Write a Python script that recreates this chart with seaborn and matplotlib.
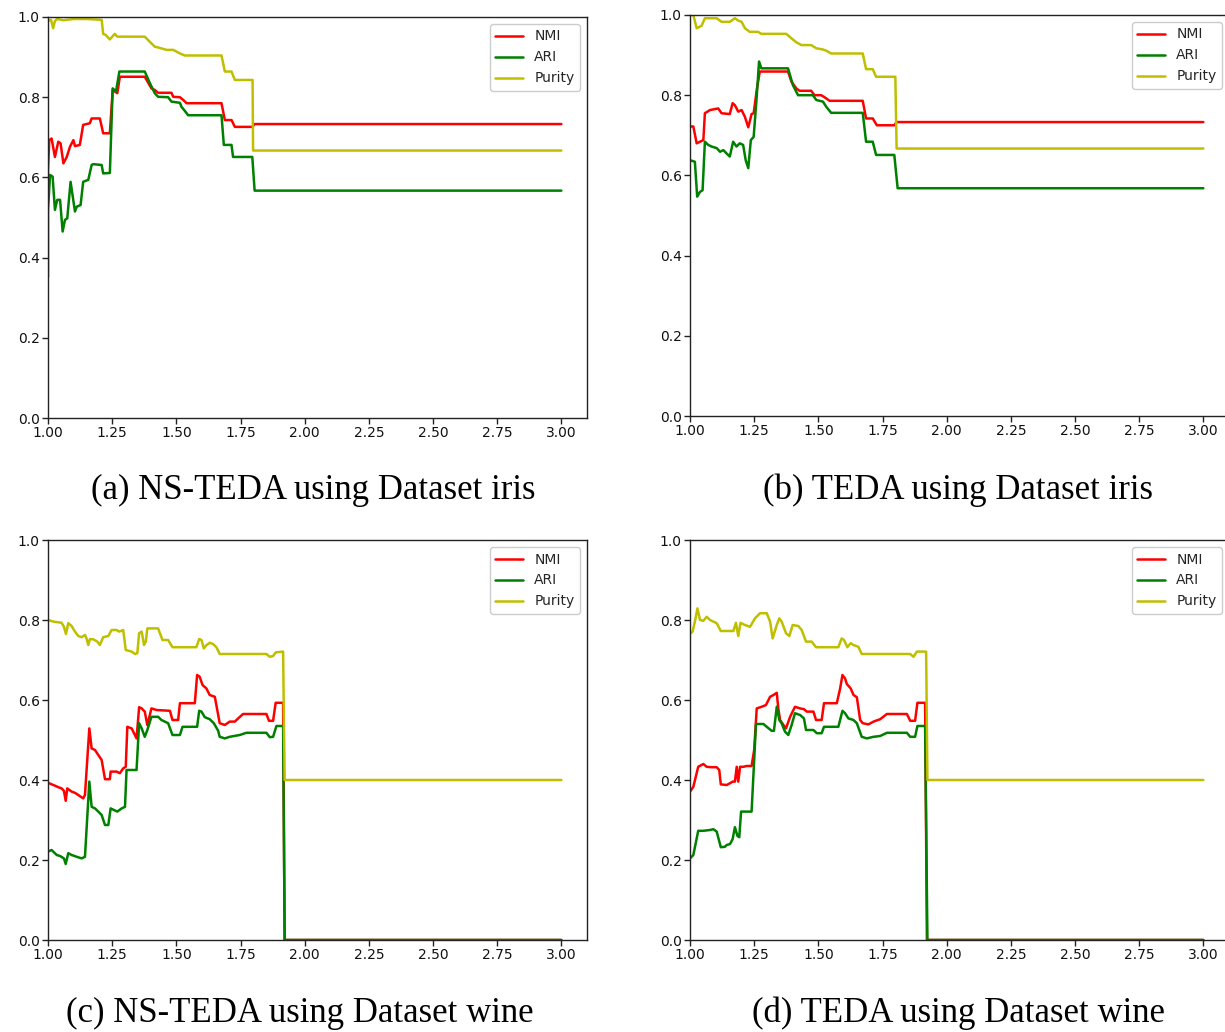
import numpy as np
import pandas as pd
import matplotlib
matplotlib.use("Agg")
import matplotlib.pyplot as plt
import seaborn as sns

# ---------------- data ----------------
# (a) NS-TEDA, iris
a_nmi_x = [1.0, 1.0, 1.005, 1.014, 1.027, 1.040, 1.049, 1.060, 1.073, 1.086, 1.099, 1.105, 1.124, 1.137,
           1.163, 1.170, 1.202, 1.215, 1.241, 1.252, 1.270, 1.280, 1.377, 1.403, 1.416, 1.429, 1.481,
           1.488, 1.514, 1.527, 1.540, 1.676, 1.689, 1.715, 1.728, 1.796, 1.805, 3.0]
a_nmi_y = [0.57, 0.62, 0.693, 0.697, 0.651, 0.689, 0.685, 0.635, 0.651, 0.677, 0.693, 0.678, 0.681, 0.731,
           0.735, 0.747, 0.747, 0.710, 0.710, 0.818, 0.810, 0.851, 0.851, 0.822, 0.818, 0.811, 0.811,
           0.801, 0.800, 0.793, 0.785, 0.785, 0.743, 0.743, 0.726, 0.726, 0.733, 0.733]
a_ari_x = [1.0, 1.0, 1.008, 1.018, 1.027, 1.036, 1.047, 1.057, 1.066, 1.075, 1.088, 1.105, 1.112, 1.127,
           1.137, 1.157, 1.170, 1.176, 1.209, 1.215, 1.241, 1.252, 1.265, 1.278, 1.377, 1.397, 1.416,
           1.429, 1.468, 1.481, 1.514, 1.520, 1.533, 1.546, 1.676, 1.685, 1.715, 1.721, 1.796, 1.805, 3.0]
a_ari_y = [0.352, 0.52, 0.606, 0.602, 0.519, 0.544, 0.544, 0.465, 0.494, 0.498, 0.589, 0.515, 0.527, 0.531,
           0.589, 0.594, 0.631, 0.633, 0.631, 0.610, 0.611, 0.822, 0.814, 0.864, 0.864, 0.835, 0.810,
           0.801, 0.800, 0.789, 0.786, 0.776, 0.766, 0.755, 0.755, 0.681, 0.681, 0.651, 0.651, 0.567, 0.567]
a_pur_x = [1.0, 1.012, 1.020, 1.027, 1.035, 1.060, 1.100, 1.150, 1.209, 1.215, 1.225, 1.241, 1.260, 1.270,
           1.377, 1.397, 1.416, 1.429, 1.462, 1.488, 1.514, 1.533, 1.676, 1.689, 1.715, 1.728, 1.797,
           1.799, 3.0]
a_pur_y = [0.99, 0.993, 0.972, 0.99, 0.995, 0.992, 0.995, 0.995, 0.993, 0.958, 0.955, 0.944, 0.958, 0.951,
           0.951, 0.938, 0.926, 0.924, 0.918, 0.918, 0.909, 0.904, 0.904, 0.864, 0.864, 0.843, 0.843,
           0.667, 0.667]

# (b) TEDA, iris
b_nmi_x = [1.0, 1.013, 1.026, 1.039, 1.052, 1.058, 1.078, 1.110, 1.123, 1.155, 1.166, 1.175, 1.188, 1.201,
           1.214, 1.227, 1.240, 1.248, 1.261, 1.272, 1.382, 1.395, 1.414, 1.427, 1.472, 1.485, 1.511,
           1.524, 1.544, 1.673, 1.686, 1.712, 1.728, 1.796, 1.805, 3.0]
b_nmi_y = [0.722, 0.722, 0.680, 0.684, 0.688, 0.755, 0.763, 0.767, 0.755, 0.753, 0.780, 0.775, 0.759, 0.763,
           0.746, 0.720, 0.753, 0.755, 0.817, 0.859, 0.859, 0.834, 0.817, 0.811, 0.811, 0.800, 0.800,
           0.795, 0.786, 0.786, 0.742, 0.742, 0.725, 0.725, 0.733, 0.733]
b_ari_x = [1.0, 1.019, 1.028, 1.039, 1.049, 1.058, 1.071, 1.084, 1.104, 1.117, 1.130, 1.142, 1.155, 1.168,
           1.181, 1.194, 1.207, 1.217, 1.227, 1.237, 1.248, 1.259, 1.269, 1.278, 1.382, 1.401, 1.421,
           1.479, 1.492, 1.518, 1.531, 1.550, 1.673, 1.686, 1.712, 1.725, 1.796, 1.809, 3.0]
b_ari_y = [0.638, 0.634, 0.547, 0.559, 0.563, 0.684, 0.676, 0.672, 0.668, 0.659, 0.663, 0.655, 0.647, 0.684,
           0.672, 0.680, 0.676, 0.638, 0.618, 0.688, 0.696, 0.788, 0.884, 0.867, 0.867, 0.825, 0.800,
           0.800, 0.788, 0.784, 0.771, 0.756, 0.756, 0.684, 0.684, 0.651, 0.651, 0.568, 0.568]
b_pur_x = [1.0, 1.013, 1.026, 1.045, 1.058, 1.104, 1.123, 1.155, 1.175, 1.188, 1.201, 1.214, 1.233, 1.265,
           1.278, 1.375, 1.395, 1.414, 1.434, 1.472, 1.492, 1.518, 1.531, 1.550, 1.673, 1.686, 1.712,
           1.725, 1.800, 1.805, 3.0]
b_pur_y = [1.0, 1.0, 0.967, 0.973, 0.992, 0.992, 0.983, 0.983, 0.992, 0.986, 0.983, 0.967, 0.958, 0.958,
           0.953, 0.953, 0.942, 0.932, 0.925, 0.925, 0.917, 0.914, 0.911, 0.904, 0.904, 0.865, 0.865,
           0.846, 0.846, 0.667, 0.667]

# (c) NS-TEDA, wine
c_nmi_x = [1.0, 1.021, 1.040, 1.053, 1.062, 1.069, 1.075, 1.092, 1.105, 1.118, 1.137, 1.144, 1.161, 1.170,
           1.183, 1.196, 1.209, 1.222, 1.241, 1.244, 1.267, 1.280, 1.293, 1.303, 1.309, 1.326, 1.345,
           1.355, 1.365, 1.377, 1.387, 1.403, 1.423, 1.475, 1.485, 1.507, 1.514, 1.572, 1.581, 1.591,
           1.602, 1.617, 1.630, 1.650, 1.669, 1.689, 1.708, 1.728, 1.741, 1.760, 1.851, 1.861, 1.877,
           1.887, 1.916, 1.922, 3.0]
c_nmi_y = [0.393, 0.3875, 0.382, 0.379, 0.373, 0.348, 0.379, 0.371, 0.368, 0.3625, 0.354, 0.3625, 0.529,
           0.479, 0.475, 0.4625, 0.45, 0.402, 0.402, 0.421, 0.421, 0.417, 0.429, 0.433, 0.533, 0.529,
           0.504, 0.582, 0.579, 0.571, 0.5375, 0.579, 0.575, 0.573, 0.55, 0.55, 0.592, 0.592, 0.6625,
           0.658, 0.6375, 0.629, 0.6125, 0.608, 0.542, 0.5375, 0.546, 0.546, 0.554, 0.565, 0.565, 0.548,
           0.548, 0.593, 0.593, 0.0, 0.0]
c_ari_x = [1.0, 1.014, 1.034, 1.047, 1.062, 1.069, 1.079, 1.092, 1.112, 1.131, 1.144, 1.161, 1.170, 1.183,
           1.196, 1.209, 1.222, 1.235, 1.244, 1.257, 1.270, 1.287, 1.300, 1.306, 1.345, 1.355, 1.365,
           1.377, 1.387, 1.403, 1.429, 1.442, 1.468, 1.485, 1.514, 1.524, 1.581, 1.589, 1.598, 1.611,
           1.630, 1.646, 1.663, 1.669, 1.689, 1.708, 1.747, 1.773, 1.851, 1.864, 1.877, 1.890, 1.916,
           1.922, 3.0]
c_ari_y = [0.221, 0.225, 0.2125, 0.21, 0.204, 0.19, 0.217, 0.2125, 0.208, 0.204, 0.208, 0.396, 0.333,
           0.329, 0.321, 0.3125, 0.2875, 0.2875, 0.329, 0.325, 0.321, 0.329, 0.333, 0.425, 0.425, 0.542,
           0.529, 0.508, 0.525, 0.558, 0.558, 0.55, 0.542, 0.5125, 0.5125, 0.533, 0.533, 0.573, 0.571,
           0.557, 0.552, 0.542, 0.523, 0.508, 0.504, 0.508, 0.5125, 0.518, 0.518, 0.507, 0.508, 0.535,
           0.535, 0.0, 0.0]
c_pur_x = [1.0, 1.021, 1.053, 1.062, 1.070, 1.079, 1.092, 1.105, 1.118, 1.131, 1.144, 1.150, 1.157, 1.163,
           1.176, 1.192, 1.202, 1.215, 1.235, 1.248, 1.267, 1.278, 1.293, 1.303, 1.326, 1.339, 1.348,
           1.355, 1.365, 1.374, 1.381, 1.387, 1.429, 1.446, 1.468, 1.485, 1.578, 1.589, 1.598, 1.607,
           1.617, 1.630, 1.643, 1.656, 1.669, 1.851, 1.864, 1.877, 1.887, 1.916, 1.922, 3.0]
c_pur_y = [0.8, 0.796, 0.793, 0.783, 0.765, 0.792, 0.785, 0.771, 0.760, 0.757, 0.7625, 0.754, 0.7375,
           0.752, 0.752, 0.746, 0.7375, 0.757, 0.760, 0.775, 0.775, 0.771, 0.775, 0.725, 0.721, 0.715,
           0.717, 0.767, 0.771, 0.7375, 0.746, 0.779, 0.779, 0.75, 0.75, 0.732, 0.732, 0.7525, 0.75,
           0.729, 0.737, 0.743, 0.74, 0.732, 0.715, 0.715, 0.708, 0.71, 0.719, 0.721, 0.4, 0.4]

# (d) TEDA, wine
d_nmi_x = [1.0, 1.013, 1.032, 1.052, 1.065, 1.084, 1.104, 1.114, 1.120, 1.143, 1.156, 1.166, 1.175, 1.182,
           1.188, 1.195, 1.208, 1.221, 1.240, 1.250, 1.260, 1.279, 1.296, 1.312, 1.325, 1.338, 1.344,
           1.351, 1.364, 1.374, 1.390, 1.409, 1.429, 1.444, 1.455, 1.481, 1.491, 1.513, 1.522, 1.572,
           1.585, 1.594, 1.604, 1.611, 1.626, 1.637, 1.650, 1.663, 1.673, 1.695, 1.715, 1.741, 1.767,
           1.845, 1.858, 1.877, 1.886, 1.916, 1.923, 3.0]
d_nmi_y = [0.371, 0.383, 0.433, 0.44, 0.433, 0.432, 0.432, 0.425, 0.389, 0.3875, 0.392, 0.396, 0.396,
           0.433, 0.396, 0.433, 0.433, 0.435, 0.435, 0.475, 0.579, 0.583, 0.5875, 0.608, 0.6125, 0.618,
           0.579, 0.55, 0.5375, 0.529, 0.558, 0.583, 0.579, 0.577, 0.571, 0.571, 0.55, 0.55, 0.592, 0.592,
           0.629, 0.6625, 0.654, 0.64, 0.629, 0.6125, 0.607, 0.55, 0.542, 0.539, 0.546, 0.552, 0.565,
           0.565, 0.548, 0.548, 0.593, 0.593, 0.0, 0.0]
d_ari_x = [1.0, 1.013, 1.032, 1.052, 1.078, 1.091, 1.104, 1.120, 1.136, 1.143, 1.156, 1.166, 1.175, 1.185,
           1.192, 1.199, 1.221, 1.240, 1.250, 1.257, 1.286, 1.299, 1.318, 1.327, 1.338, 1.348, 1.357,
           1.370, 1.383, 1.396, 1.409, 1.429, 1.444, 1.452, 1.481, 1.494, 1.513, 1.522, 1.578, 1.594,
           1.604, 1.617, 1.637, 1.650, 1.669, 1.689, 1.715, 1.741, 1.767, 1.845, 1.858, 1.877, 1.886,
           1.916, 1.925, 3.0]
d_ari_y = [0.204, 0.2125, 0.273, 0.273, 0.275, 0.277, 0.271, 0.232, 0.233, 0.2375, 0.24, 0.252, 0.282,
           0.26, 0.257, 0.321, 0.321, 0.321, 0.45, 0.54, 0.54, 0.533, 0.523, 0.523, 0.583, 0.55, 0.542,
           0.521, 0.5125, 0.5375, 0.567, 0.5625, 0.554, 0.525, 0.525, 0.517, 0.517, 0.533, 0.533, 0.573,
           0.567, 0.554, 0.55, 0.542, 0.508, 0.504, 0.508, 0.51, 0.518, 0.518, 0.508, 0.508, 0.535,
           0.535, 0.0, 0.0]
d_pur_x = [1.0, 1.010, 1.019, 1.029, 1.039, 1.052, 1.065, 1.078, 1.091, 1.104, 1.120, 1.169, 1.179, 1.188,
           1.197, 1.214, 1.234, 1.253, 1.273, 1.299, 1.312, 1.322, 1.338, 1.348, 1.357, 1.374, 1.387,
           1.400, 1.422, 1.435, 1.452, 1.474, 1.491, 1.578, 1.591, 1.600, 1.613, 1.626, 1.637, 1.656,
           1.669, 1.858, 1.871, 1.884, 1.920, 1.925, 3.0]
d_pur_y = [0.765, 0.771, 0.796, 0.829, 0.8, 0.798, 0.808, 0.8, 0.796, 0.792, 0.7725, 0.7725, 0.793, 0.76,
           0.793, 0.7875, 0.783, 0.804, 0.817, 0.817, 0.796, 0.754, 0.7875, 0.804, 0.796, 0.767, 0.76,
           0.7875, 0.785, 0.775, 0.746, 0.746, 0.732, 0.732, 0.754, 0.75, 0.732, 0.742, 0.7375, 0.733,
           0.715, 0.715, 0.708, 0.721, 0.721, 0.4, 0.4]

metrics = ["NMI", "ARI", "Purity"]
captions = ["(a) NS-TEDA using Dataset iris", "(b) TEDA using Dataset iris",
            "(c) NS-TEDA using Dataset wine", "(d) TEDA using Dataset wine"]
panels = [
    [(a_nmi_x, a_nmi_y), (a_ari_x, a_ari_y), (a_pur_x, a_pur_y)],
    [(b_nmi_x, b_nmi_y), (b_ari_x, b_ari_y), (b_pur_x, b_pur_y)],
    [(c_nmi_x, c_nmi_y), (c_ari_x, c_ari_y), (c_pur_x, c_pur_y)],
    [(d_nmi_x, d_nmi_y), (d_ari_x, d_ari_y), (d_pur_x, d_pur_y)],
]
x_ticks = [1.00, 1.25, 1.50, 1.75, 2.00, 2.25, 2.50, 2.75, 3.00]
y_ticks = [0.0, 0.2, 0.4, 0.6, 0.8, 1.0]

# ---------------- style ----------------
sns.set_theme(style="ticks")
plt.rcParams["font.family"] = ["DejaVu Sans"]
plt.rcParams["axes.edgecolor"] = "#222222"
plt.rcParams["axes.linewidth"] = 1.0
plt.rcParams["xtick.color"] = "#222222"
plt.rcParams["ytick.color"] = "#222222"
plt.rcParams["xtick.labelcolor"] = "#111111"
plt.rcParams["ytick.labelcolor"] = "#111111"

colors = {"NMI": "red", "ARI": "green", "Purity": (0.75, 0.75, 0.0)}

fig = plt.figure(figsize=(12.25, 10.32), dpi=100)
W, H = 1225.0, 1032.0
# axes boxes in pixels: left, top, right, bottom
boxes = [(48, 17, 587, 418), (690, 15, 1229, 416), (48, 540, 587, 940), (690, 540, 1229, 940)]
cap_pos = [(313, 490), (958, 490), (300, 1013), (958, 1013)]

for i, (box, series) in enumerate(zip(boxes, panels)):
    l, t, r, b = box
    ax = fig.add_axes([l / W, 1 - b / H, (r - l) / W, (b - t) / H])
    for name, (xs, ys) in zip(metrics, series):
        sns.lineplot(x=xs, y=ys, ax=ax, color=colors[name], label=name,
                     sort=False, estimator=None, linewidth=1.8)
    ax.set_xlim(1.0, 3.1)
    ax.set_ylim(0.0, 1.0)
    ax.set_xticks(x_ticks)
    ax.set_xticklabels([f"{v:.2f}" for v in x_ticks])
    ax.set_yticks(y_ticks)
    ax.set_yticklabels([f"{v:.1f}" for v in y_ticks])
    ax.tick_params(labelsize=10, length=4, width=1, pad=2)
    ax.set_xlabel("")
    ax.set_ylabel("")
    ax.legend(loc="upper right", fontsize=10, frameon=True, fancybox=True,
              edgecolor="#cccccc", framealpha=1.0, borderaxespad=0.5)
    cx, cy = cap_pos[i]
    fig.text(cx / W, 1 - cy / H, captions[i], ha="center", va="center",
             fontsize=25, color="black", family=["Liberation Serif"])

fig.savefig("out.png", dpi=100)
